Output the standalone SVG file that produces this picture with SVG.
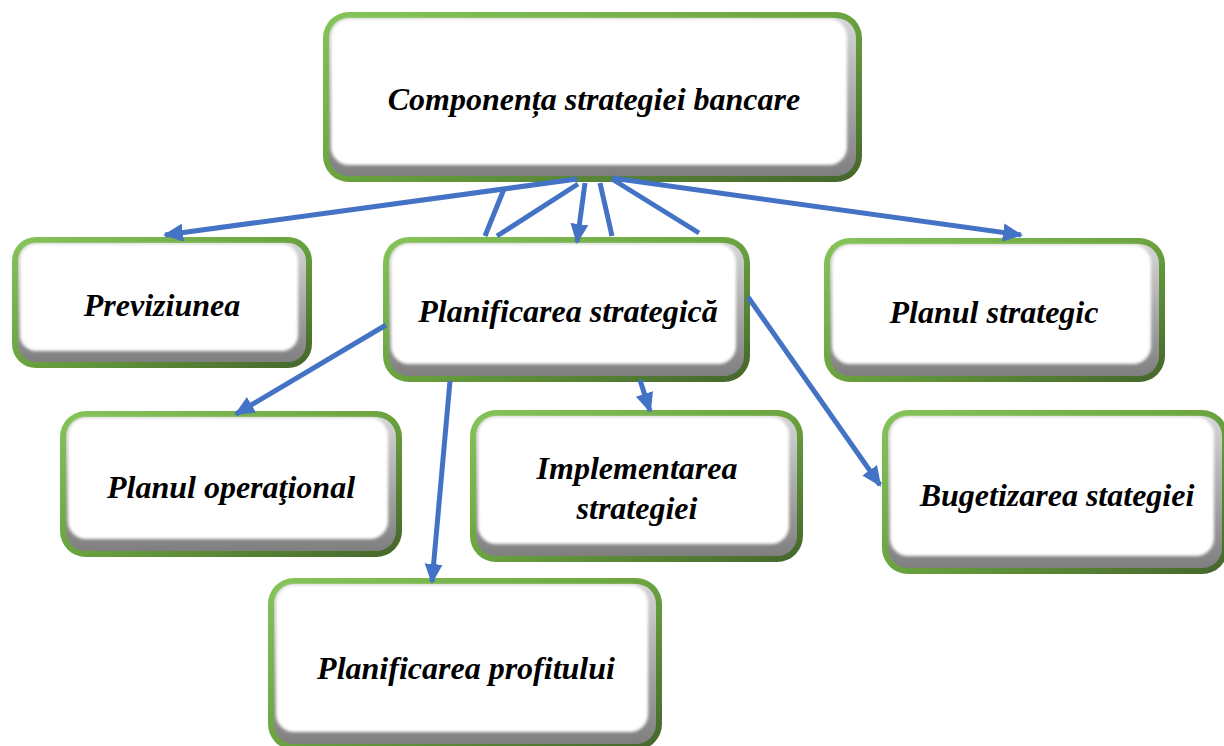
<svg xmlns="http://www.w3.org/2000/svg" width="1224" height="746" viewBox="0 0 1224 746">
<defs>
<linearGradient id="gGreen" x1="0" y1="0" x2="1" y2="1">
<stop offset="0" stop-color="#86c45a"/>
<stop offset="0.5" stop-color="#6aa33f"/>
<stop offset="1" stop-color="#45652b"/>
</linearGradient>
<linearGradient id="gGrey" x1="0" y1="0" x2="0" y2="1">
<stop offset="0" stop-color="#d6d6d6"/>
<stop offset="1" stop-color="#7f7f7f"/>
</linearGradient>
<filter id="soft" x="-5%" y="-5%" width="110%" height="110%">
<feGaussianBlur stdDeviation="1.6"/>
</filter>
<marker id="ah" markerUnits="userSpaceOnUse" markerWidth="22" markerHeight="20" refX="18" refY="10" orient="auto">
<path d="M0,1 L20,10 L0,19 Z" fill="#4472c4"/>
</marker>
</defs>
<style>
.outer{fill:url(#gGreen)}
.grey{fill:url(#gGrey)}
.inner{fill:#ffffff;filter:url(#soft)}
.lbl{font-family:'Liberation Serif','Times New Roman',serif;font-weight:700;font-style:italic;font-size:32px;fill:#000;text-anchor:middle}
.c{stroke:#4472c4;stroke-width:5;fill:none;stroke-linecap:butt}
</style>
<rect width="1224" height="746" fill="#ffffff"/>

<g id="n-top">
<rect class="outer" x="323" y="12" width="539" height="170" rx="26"/>
<rect class="grey" x="329" y="18" width="527" height="158" rx="20"/>
<rect class="inner" x="331" y="19" width="516" height="146" rx="18"/>
<text class="lbl" x="594" y="110">Componența strategiei bancare</text>
</g>

<g id="n-previziunea">
<rect class="outer" x="12" y="237" width="300" height="131" rx="24"/>
<rect class="grey" x="18" y="243" width="288" height="119" rx="18"/>
<rect class="inner" x="20" y="244" width="278" height="107" rx="16"/>
<text class="lbl" x="162" y="316">Previziunea</text>
</g>

<g id="n-planificarea-strategica">
<rect class="outer" x="383" y="237" width="367" height="145" rx="26"/>
<rect class="grey" x="389" y="243" width="355" height="133" rx="20"/>
<rect class="inner" x="391" y="244" width="345" height="120" rx="18"/>
<text class="lbl" x="568" y="322">Planificarea strategică</text>
</g>

<g id="n-planul-strategic">
<rect class="outer" x="824" y="238" width="341" height="144" rx="26"/>
<rect class="grey" x="830" y="244" width="329" height="132" rx="20"/>
<rect class="inner" x="832" y="245" width="319" height="119" rx="18"/>
<text class="lbl" x="994" y="323">Planul strategic</text>
</g>

<g id="n-planul-operational">
<rect class="outer" x="60" y="411" width="342" height="146" rx="26"/>
<rect class="grey" x="66" y="417" width="330" height="134" rx="20"/>
<rect class="inner" x="68" y="418" width="320" height="121" rx="18"/>
<text class="lbl" x="231" y="498">Planul operaţional</text>
</g>

<g id="n-implementarea">
<rect class="outer" x="470" y="410" width="333" height="152" rx="26"/>
<rect class="grey" x="476" y="416" width="321" height="140" rx="20"/>
<rect class="inner" x="478" y="417" width="311" height="127" rx="18"/>
<text class="lbl" x="637" y="479">Implementarea</text>
<text class="lbl" x="637" y="519">strategiei</text>
</g>

<g id="n-bugetizarea">
<rect class="outer" x="882" y="410" width="346" height="164" rx="26"/>
<rect class="grey" x="888" y="416" width="334" height="152" rx="20"/>
<rect class="inner" x="890" y="417" width="324" height="139" rx="18"/>
<text class="lbl" x="1057" y="506">Bugetizarea stategiei</text>
</g>

<g id="n-profit">
<rect class="outer" x="268" y="578" width="394" height="172" rx="26"/>
<rect class="grey" x="274" y="584" width="382" height="160" rx="20"/>
<rect class="inner" x="276" y="585" width="372" height="147" rx="18"/>
<text class="lbl" x="466" y="679">Planificarea profitului</text>
</g>

<g id="connectors">
<line class="c" x1="577" y1="179" x2="165" y2="235" marker-end="url(#ah)"/>
<line class="c" x1="504" y1="189" x2="485" y2="236"/>
<line class="c" x1="578" y1="184" x2="497" y2="236"/>
<line class="c" x1="585" y1="183" x2="577" y2="242" marker-end="url(#ah)"/>
<line class="c" x1="600" y1="183" x2="612" y2="236"/>
<line class="c" x1="612" y1="179" x2="699" y2="233"/>
<line class="c" x1="612" y1="178" x2="1021" y2="235" marker-end="url(#ah)"/>
<line class="c" x1="386" y1="325" x2="236" y2="414" marker-end="url(#ah)"/>
<line class="c" x1="450" y1="381" x2="432" y2="582" marker-end="url(#ah)"/>
<line class="c" x1="640" y1="380" x2="650" y2="411" marker-end="url(#ah)"/>
<line class="c" x1="748" y1="297" x2="880" y2="485" marker-end="url(#ah)"/>
</g>
</svg>
